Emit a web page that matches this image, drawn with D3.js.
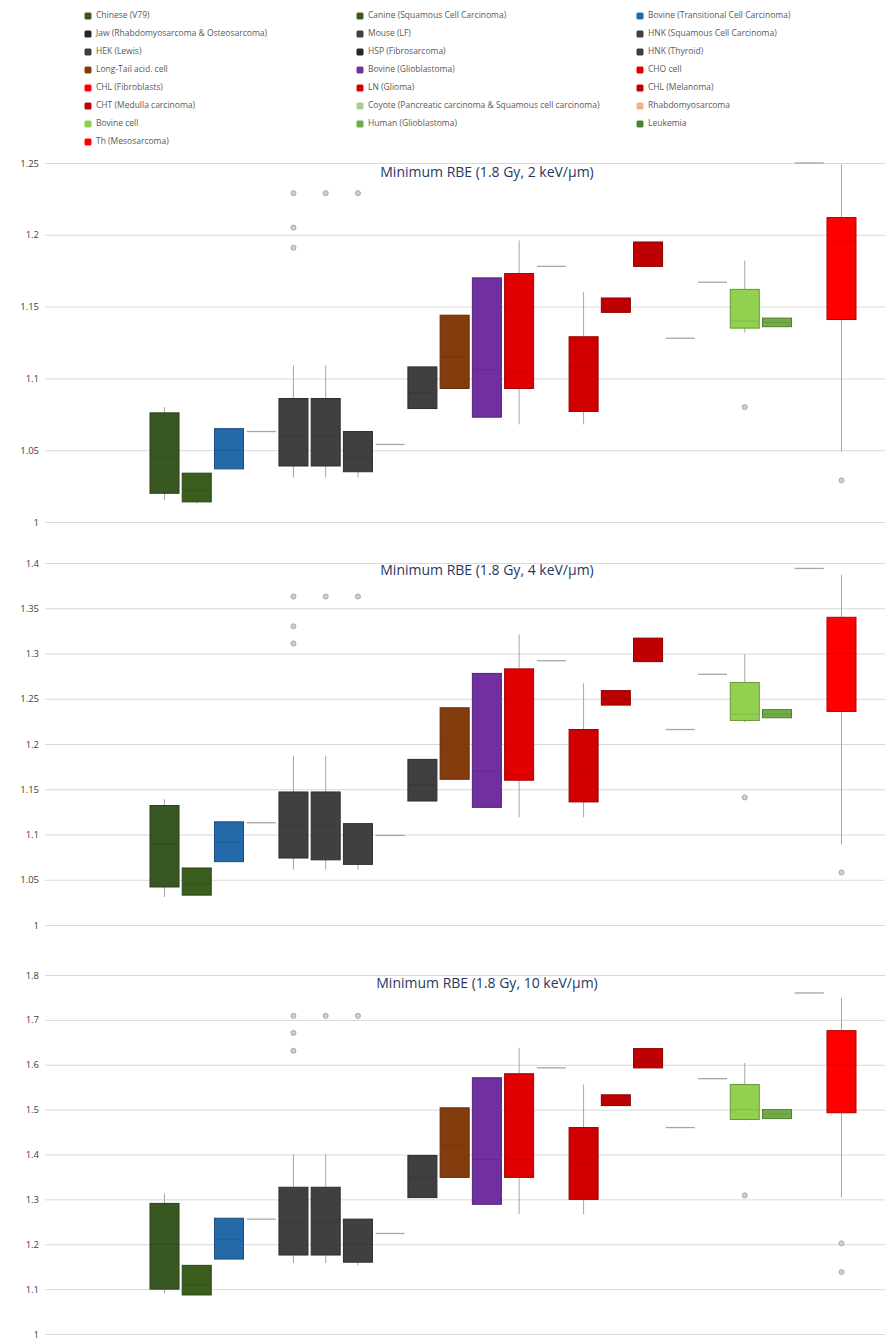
<!DOCTYPE html>
<html>
<head>
<meta charset="utf-8">
<script src="https://cdn.jsdelivr.net/npm/d3@7"></script>
<style>
  body { margin: 0; background: #fff; font-family: "Open Sans", "DejaVu Sans", sans-serif; }
</style>
</head>
<body>
<div id="chart"></div>
<script>
// series (one box per cell line), legend is read row by row
const seriesNames = [
  "Chinese (V79)", "Canine (Squamous Cell Carcinoma)", "Bovine (Transitional Cell Carcinoma)",
  "Jaw (Rhabdomyosarcoma & Osteosarcoma)", "Mouse (LF)", "HNK (Squamous Cell Carcinoma)",
  "HEK (Lewis)", "HSP (Fibrosarcoma)", "HNK (Thyroid)",
  "Long-Tail acid. cell", "Bovine (Glioblastoma)", "CHO cell",
  "CHL (Fibroblasts)", "LN (Glioma)", "CHL (Melanoma)",
  "CHT (Medulla carcinoma)", "Coyote (Pancreatic carcinoma & Squamous cell carcinoma)", "Rhabdomyosarcoma",
  "Bovine cell", "Human (Glioblastoma)", "Leukemia",
  "Th (Mesosarcoma)"
];
const seriesColors = [
  "#385723", "#3b5e1f", "#2469a8", "#262626", "#404040", "#404040",
  "#404040", "#262626", "#3f3f3f", "#843c0c", "#7030a0", "#e00000",
  "#ff0000", "#d00000", "#c00000", "#c00000", "#a9d18e", "#f4b183",
  "#92d050", "#70ad47", "#548235", "#ff0000"
];

const titles = [
  "Minimum RBE (1.8 Gy, 2 keV/µm)",
  "Minimum RBE (1.8 Gy, 4 keV/µm)",
  "Minimum RBE (1.8 Gy, 10 keV/µm)"
];

// panel 1 : 2 keV/um
const p1Ticks = [1, 1.05, 1.1, 1.15, 1.2, 1.25];
const p1Low  = [1.015, 1.013, 1.037, 1.063, 1.031, 1.031, 1.031, 1.054, 1.079, 1.093, 1.073, 1.068, 1.178, 1.068, 1.146, 1.178, 1.128, 1.167, 1.132, 1.136, 1.25, 1.049];
const p1Q1   = [1.020, 1.014, 1.037, 1.063, 1.039, 1.039, 1.035, 1.054, 1.079, 1.093, 1.073, 1.093, 1.178, 1.077, 1.146, 1.178, 1.128, 1.167, 1.135, 1.136, 1.25, 1.141];
const p1Med  = [1.045, 1.022, 1.050, 1.063, 1.060, 1.060, 1.045, 1.054, 1.090, 1.115, 1.106, 1.104, 1.178, 1.108, 1.151, 1.186, 1.128, 1.167, 1.140, 1.139, 1.25, 1.195];
const p1Q3   = [1.076, 1.034, 1.065, 1.063, 1.086, 1.086, 1.063, 1.054, 1.108, 1.144, 1.170, 1.173, 1.178, 1.129, 1.156, 1.195, 1.128, 1.167, 1.162, 1.142, 1.25, 1.212];
const p1High = [1.080, 1.034, 1.065, 1.063, 1.109, 1.109, 1.063, 1.054, 1.108, 1.144, 1.170, 1.196, 1.178, 1.160, 1.156, 1.195, 1.128, 1.167, 1.182, 1.142, 1.25, 1.249];
const p1Out  = {4: [1.229, 1.205, 1.191], 5: [1.229], 6: [1.229], 18: [1.080], 21: [1.029]};

// panel 2 : 4 keV/um
const p2Ticks = [1, 1.05, 1.1, 1.15, 1.2, 1.25, 1.3, 1.35, 1.4];
const p2Low  = [1.031, 1.033, 1.070, 1.113, 1.061, 1.061, 1.061, 1.099, 1.137, 1.161, 1.130, 1.119, 1.292, 1.119, 1.243, 1.291, 1.216, 1.277, 1.224, 1.229, 1.394, 1.089];
const p2Q1   = [1.042, 1.033, 1.070, 1.113, 1.074, 1.072, 1.067, 1.099, 1.137, 1.161, 1.130, 1.160, 1.292, 1.136, 1.243, 1.291, 1.216, 1.277, 1.226, 1.229, 1.394, 1.236];
const p2Med  = [1.090, 1.045, 1.092, 1.113, 1.110, 1.110, 1.085, 1.099, 1.155, 1.200, 1.170, 1.165, 1.292, 1.170, 1.250, 1.304, 1.216, 1.277, 1.233, 1.233, 1.394, 1.300];
const p2Q3   = [1.132, 1.063, 1.114, 1.113, 1.147, 1.147, 1.112, 1.099, 1.183, 1.240, 1.278, 1.283, 1.292, 1.216, 1.259, 1.317, 1.216, 1.277, 1.268, 1.238, 1.394, 1.340];
const p2High = [1.139, 1.063, 1.114, 1.113, 1.187, 1.187, 1.112, 1.099, 1.183, 1.240, 1.278, 1.321, 1.292, 1.267, 1.259, 1.317, 1.216, 1.277, 1.299, 1.238, 1.394, 1.387];
const p2Out  = {4: [1.363, 1.330, 1.311], 5: [1.363], 6: [1.363], 18: [1.141], 21: [1.058]};

// panel 3 : 10 keV/um
const p3Ticks = [1, 1.1, 1.2, 1.3, 1.4, 1.5, 1.6, 1.7, 1.8];
const p3Low  = [1.091, 1.087, 1.167, 1.256, 1.158, 1.158, 1.153, 1.224, 1.304, 1.349, 1.289, 1.267, 1.593, 1.267, 1.509, 1.593, 1.460, 1.569, 1.476, 1.480, 1.760, 1.304];
const p3Q1   = [1.100, 1.087, 1.167, 1.256, 1.176, 1.176, 1.160, 1.224, 1.304, 1.349, 1.289, 1.349, 1.593, 1.300, 1.509, 1.593, 1.460, 1.569, 1.478, 1.480, 1.760, 1.493];
const p3Med  = [1.200, 1.110, 1.210, 1.256, 1.250, 1.250, 1.200, 1.224, 1.350, 1.420, 1.389, 1.389, 1.593, 1.380, 1.520, 1.610, 1.460, 1.569, 1.500, 1.490, 1.760, 1.600];
const p3Q3   = [1.291, 1.153, 1.258, 1.256, 1.327, 1.327, 1.256, 1.224, 1.398, 1.504, 1.571, 1.580, 1.593, 1.460, 1.533, 1.636, 1.460, 1.569, 1.556, 1.500, 1.760, 1.676];
const p3High = [1.313, 1.153, 1.258, 1.256, 1.400, 1.400, 1.256, 1.224, 1.398, 1.504, 1.571, 1.638, 1.593, 1.556, 1.533, 1.636, 1.460, 1.569, 1.604, 1.500, 1.760, 1.749];
const p3Out  = {4: [1.709, 1.671, 1.631], 5: [1.709], 6: [1.709], 18: [1.309], 21: [1.202, 1.138]};

const panels = [
  {title: titles[0], ticks: p1Ticks, low: p1Low, q1: p1Q1, med: p1Med, q3: p1Q3, high: p1High, out: p1Out, top: 163, bottom: 522, titleY: 177},
  {title: titles[1], ticks: p2Ticks, low: p2Low, q1: p2Q1, med: p2Med, q3: p2Q3, high: p2High, out: p2Out, top: 563, bottom: 925, titleY: 575},
  {title: titles[2], ticks: p3Ticks, low: p3Low, q1: p3Q1, med: p3Med, q3: p3Q3, high: p3High, out: p3Out, top: 975, bottom: 1334, titleY: 988}
];

const width = 890, height = 1341;
const svg = d3.select("#chart").append("svg")
  .attr("width", width)
  .attr("height", height);

// legend
const legendX = [88, 360, 640];
const legend = svg.append("g").attr("class", "legend");
seriesNames.forEach((name, i) => {
  const col = i % 3, row = Math.floor(i / 3);
  const g = legend.append("g")
    .attr("transform", `translate(${legendX[col]}, ${16 + row * 18})`);
  g.append("rect")
    .attr("x", -3.5).attr("y", -3.5)
    .attr("width", 7).attr("height", 7)
    .attr("rx", 1.5)
    .attr("fill", seriesColors[i]);
  g.append("text")
    .attr("x", 8).attr("y", 0)
    .attr("dominant-baseline", "middle")
    .attr("font-size", 8.5)
    .attr("fill", "#595959")
    .text(name);
});

const xScale = d3.scaleBand()
  .domain(d3.range(seriesNames.length))
  .range([150, 856])
  .paddingInner(0.1);

panels.forEach(p => {
  const yScale = d3.scaleLinear()
    .domain([p.ticks[0], p.ticks[p.ticks.length - 1]])
    .range([p.bottom, p.top]);

  const g = svg.append("g").attr("class", "panel");

  // gridlines + labels via axis
  const yAxis = d3.axisLeft(yScale)
    .tickValues(p.ticks)
    .tickSize(-840)
    .tickFormat(d => String(+d.toFixed(2)));
  const ax = g.append("g")
    .attr("transform", "translate(45,0)")
    .call(yAxis);
  ax.select(".domain").remove();
  ax.selectAll(".tick line").attr("stroke", "#d9d9d9");
  ax.selectAll(".tick text")
    .attr("x", -6)
    .attr("font-size", 9.5)
    .attr("font-family", "Open Sans, sans-serif")
    .attr("fill", "#404040");

  g.append("text")
    .attr("x", 487).attr("y", p.titleY)
    .attr("text-anchor", "middle")
    .attr("font-size", 14)
    .attr("fill", "#1f3864")
    .text(p.title);

  const bw = xScale.bandwidth();
  d3.range(seriesNames.length).forEach(i => {
    const cx = xScale(i) + bw / 2;
    const col = seriesColors[i];
    if (p.q1[i] === p.q3[i]) {
      // single value: collapsed box
      g.append("line")
        .attr("x1", xScale(i)).attr("x2", xScale(i) + bw)
        .attr("y1", yScale(p.q1[i])).attr("y2", yScale(p.q1[i]))
        .attr("stroke", "#a6a6a6").attr("stroke-width", 1.3);
      return;
    }
    // whiskers
    g.append("line")
      .attr("x1", cx).attr("x2", cx)
      .attr("y1", yScale(p.high[i])).attr("y2", yScale(p.q3[i]))
      .attr("stroke", "#a6a6a6");
    g.append("line")
      .attr("x1", cx).attr("x2", cx)
      .attr("y1", yScale(p.q1[i])).attr("y2", yScale(p.low[i]))
      .attr("stroke", "#a6a6a6");
    // box
    g.append("rect")
      .attr("x", xScale(i))
      .attr("y", yScale(p.q3[i]))
      .attr("width", bw)
      .attr("height", yScale(p.q1[i]) - yScale(p.q3[i]))
      .attr("fill", col)
      .attr("stroke", d3.color(col).darker(0.9))
      .attr("stroke-width", 1);
    g.append("line")
      .attr("x1", xScale(i) + 1).attr("x2", xScale(i) + bw - 1)
      .attr("y1", yScale(p.med[i])).attr("y2", yScale(p.med[i]))
      .attr("stroke", d3.color(col).darker(0.7))
      .attr("stroke-opacity", 0.5);
  });

  // outliers
  Object.keys(p.out).forEach(k => {
    const i = +k;
    p.out[k].forEach(v => {
      g.append("circle")
        .attr("cx", xScale(i) + bw / 2)
        .attr("cy", yScale(v))
        .attr("r", 2.5)
        .attr("fill", "#d0d0d0")
        .attr("stroke", "#a6a6a6");
    });
  });
});
</script>
</body>
</html>
